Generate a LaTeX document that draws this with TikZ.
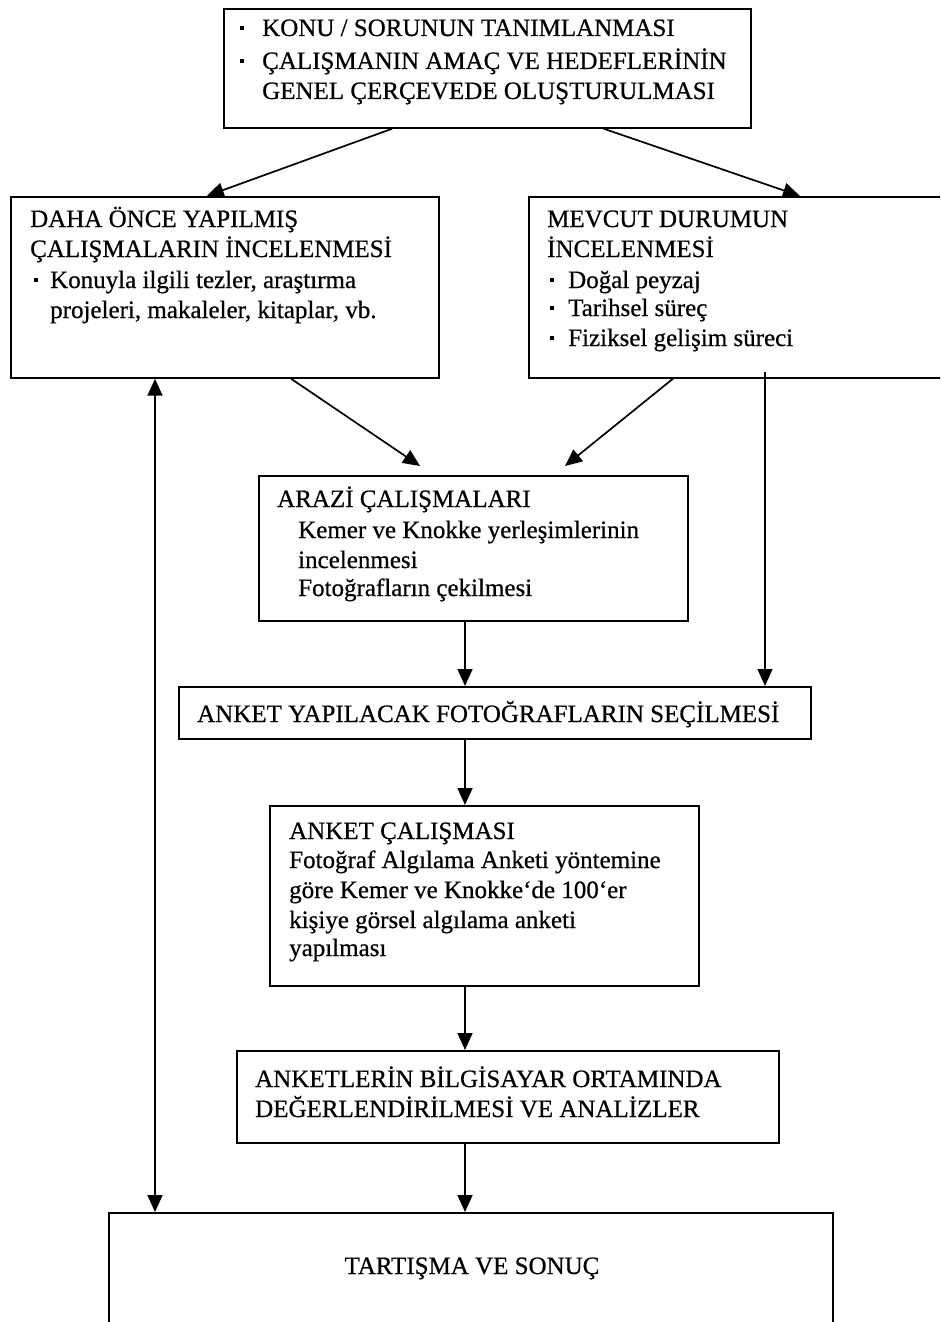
\documentclass[tikz,border=0pt]{standalone}
\usepackage{fontspec}
\setmainfont{Liberation Serif}[FakeBold=0.6,BoldFont=Liberation Serif]
\usetikzlibrary{arrows.meta,calc}
\newcommand\bul[1]{\makebox[#1][l]{\rule[6pt]{4pt}{4pt}}}
\begin{document}
\begin{tikzpicture}[x=1pt,y=-1pt,
  box/.style={draw=black,line width=1.7pt,anchor=north west,inner sep=0pt},
  txt/.style={anchor=base west,inner sep=0pt,font=\fontsize{25}{30}\selectfont\bfseries},
  arr/.style={line width=1.7pt,-{Triangle[length=17pt,width=15pt]}},
  darr/.style={line width=1.7pt,{Triangle[length=17pt,width=15pt]}-{Triangle[length=17pt,width=15pt]}}]
\clip (0,0) rectangle (940,1322);
\fill[white] (0,0) rectangle (940,1322);
% boxes
\node[box,minimum width=527pt,minimum height=119pt] (top) at (223,8) {};
\node[box,minimum width=428pt,minimum height=181pt] (lbox) at (10,196) {};
\node[box,minimum width=440pt,minimum height=181pt] (rbox) at (528,196) {};
\node[box,minimum width=429pt,minimum height=145pt] (arazi) at (258,475) {};
\node[box,minimum width=632pt,minimum height=52pt] (sec) at (178,686) {};
\node[box,minimum width=429pt,minimum height=180pt] (anket) at (269,805) {};
\node[box,minimum width=542pt,minimum height=92pt] (anal) at (236,1050) {};
\node[box,minimum width=724pt,minimum height=140pt] (tart) at (108,1212) {};
% texts
\node[txt] (t1) at ($(top.north west)+(17,28)$) {\bul{22pt}KONU / SORUNUN TANIMLANMASI};
\node[txt] (t2) at ($(top.north west)+(17,61)$) {\bul{22pt}ÇALIŞMANIN AMAÇ VE HEDEFLERİNİN};
\node[txt] (t3) at ($(top.north west)+(39,91)$) {GENEL ÇERÇEVEDE OLUŞTURULMASI};
\node[txt] (l1) at ($(lbox.north west)+(20,31)$) {DAHA ÖNCE YAPILMIŞ};
\node[txt] (l2) at ($(lbox.north west)+(20,61)$) {ÇALIŞMALARIN İNCELENMESİ};
\node[txt] (l3) at ($(lbox.north west)+(24,92)$) {\bul{16pt}Konuyla ilgili tezler, araştırma};
\node[txt] (l4) at ($(lbox.north west)+(40,122)$) {projeleri, makaleler, kitaplar, vb.};
\node[txt] (r1) at ($(rbox.north west)+(19,31)$) {MEVCUT DURUMUN};
\node[txt] (r2) at ($(rbox.north west)+(19,61)$) {İNCELENMESİ};
\node[txt] (r3) at ($(rbox.north west)+(22,92)$) {\bul{18pt}Doğal peyzaj};
\node[txt] (r4) at ($(rbox.north west)+(22,120)$) {\bul{18pt}Tarihsel süreç};
\node[txt] (r5) at ($(rbox.north west)+(22,150)$) {\bul{18pt}Fiziksel gelişim süreci};
\node[txt] (a1) at ($(arazi.north west)+(19,32)$) {ARAZİ ÇALIŞMALARI};
\node[txt] (a2) at ($(arazi.north west)+(40,63)$) {Kemer ve Knokke yerleşimlerinin};
\node[txt] (a3) at ($(arazi.north west)+(40,93)$) {incelenmesi};
\node[txt] (a4) at ($(arazi.north west)+(40,121)$) {Fotoğrafların çekilmesi};
\node[txt] (s1) at ($(sec.north west)+(19,36)$) {ANKET YAPILACAK FOTOĞRAFLARIN SEÇİLMESİ};
\node[txt] (k1) at ($(anket.north west)+(20,34)$) {ANKET ÇALIŞMASI};
\node[txt] (k2) at ($(anket.north west)+(20,63)$) {Fotoğraf Algılama Anketi yöntemine};
\node[txt] (k3) at ($(anket.north west)+(20,93)$) {göre Kemer ve Knokke‘de 100‘er};
\node[txt] (k4) at ($(anket.north west)+(20,123)$) {kişiye görsel algılama anketi};
\node[txt] (k5) at ($(anket.north west)+(20,151)$) {yapılması};
\node[txt] (n1) at ($(anal.north west)+(19,37)$) {ANKETLERİN BİLGİSAYAR ORTAMINDA};
\node[txt] (n2) at ($(anal.north west)+(19,67)$) {DEĞERLENDİRİLMESİ VE ANALİZLER};
\node[txt,anchor=base] (z1) at ($(tart.north west)+(364,62)$) {TARTIŞMA VE SONUÇ};
% connectors
\draw[arr] ($(top.south west)!0.32!(top.south east)$) -- ($(lbox.north west)!0.458!(lbox.north east)$);
\draw[arr] ($(top.south west)!0.72!(top.south east)$) -- ($(rbox.north west)+(272,0)$);
\draw[arr] ($(lbox.south west)+(281,0)$) -- ($(arazi.north west)+(162,-9)$);
\draw[arr] ($(rbox.south west)+(145,0)$) -- ($(arazi.north west)+(307,-9)$);
\draw[arr] ($(rbox.south west)+(237,-7)$) -- ($(sec.north west)+(587,0)$);
\draw[arr] ($(arazi.south west)+(207,0)$) -- ($(sec.north west)+(287,0)$);
\draw[arr] ($(sec.south west)+(287,0)$) -- ($(anket.north west)+(196,0)$);
\draw[arr] ($(anket.south west)+(196,0)$) -- ($(anal.north west)+(229,0)$);
\draw[arr] ($(anal.south west)+(229,0)$) -- ($(tart.north west)+(357,0)$);
\draw[darr] ($(lbox.south west)+(145,0)$) -- ($(tart.north west)+(47,0)$);
\end{tikzpicture}
\end{document}
